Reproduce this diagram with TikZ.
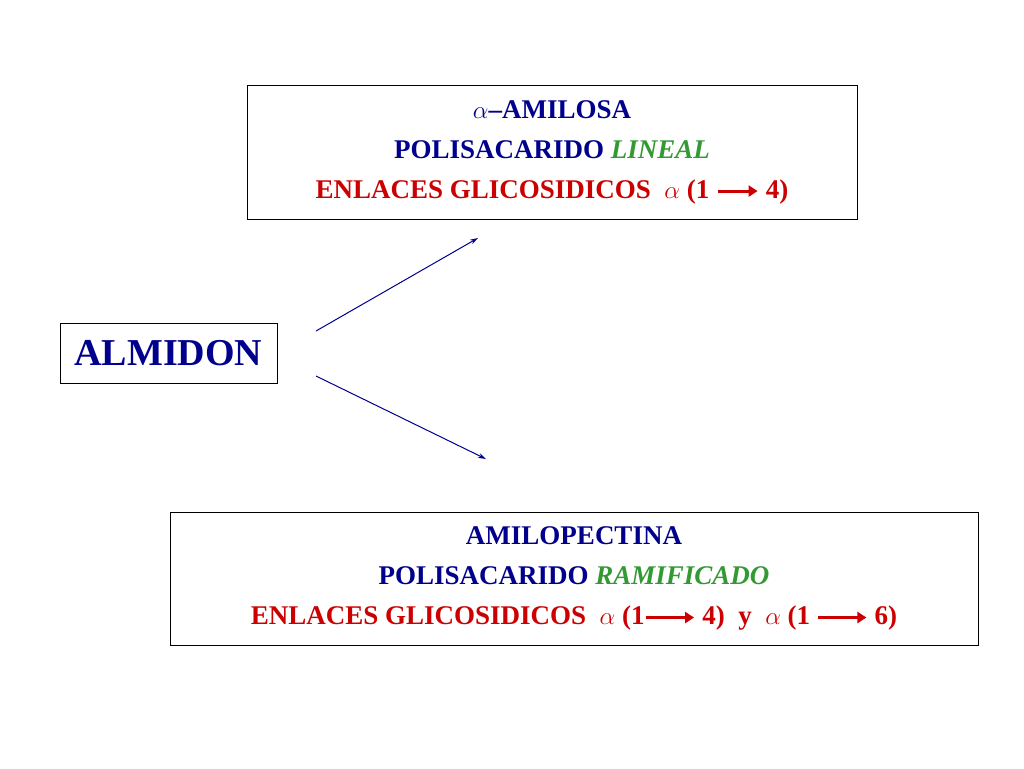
\documentclass[tikz,border=0pt]{standalone}
\usepackage{fontspec}
\setmainfont{Liberation Serif}
\usetikzlibrary{arrows.meta}
\definecolor{navy}{RGB}{0,0,140}
\definecolor{leaf}{RGB}{51,153,51}
\definecolor{brick}{RGB}{204,0,0}
\newcommand{\redarr}[1]{\tikz[baseline]\draw[-{Triangle[length=9pt,width=11pt]},line width=3pt,brick] (0pt,7pt)--(#1,7pt);}
\tikzset{
  textbox/.style={draw,line width=0.8pt,align=center,font=\fontsize{27}{40}\selectfont\bfseries,inner sep=0pt},
  link/.style={navy,line width=1pt,-{Stealth[length=8pt,width=5pt]}}
}
\begin{document}
\begin{tikzpicture}[x=1pt,y=-1pt]
\useasboundingbox (0,0) rectangle (1024,768);
% boxes
\node[textbox,minimum width=610,minimum height=134] (amilosa) at (552,152) {%
  \textcolor{navy}{$\alpha$--AMILOSA}\\
  \textcolor{navy}{POLISACARIDO}\ \textcolor{leaf}{\itshape LINEAL}\\
  \textcolor{brick}{ENLACES GLICOSIDICOS \ $\alpha$ (1 \redarr{40pt} 4)}};
\node[textbox,minimum width=808,minimum height=133] (amilopec) at (574,578.5) {%
  \textcolor{navy}{AMILOPECTINA}\\
  \textcolor{navy}{POLISACARIDO}\ \textcolor{leaf}{\itshape RAMIFICADO}\\
  \textcolor{brick}{ENLACES GLICOSIDICOS \ $\alpha$ (1\redarr{48pt} 4) \ y \ $\alpha$ (1 \redarr{48pt} 6)}};
\node[textbox,minimum width=217,minimum height=60,font=\fontsize{38}{40}\selectfont\bfseries,text=navy] (almidon) at (168.5,353) {ALMIDON};
% connectors
\coordinate (a1) at (316,331);
\coordinate (a2) at (316,376);
\coordinate (top) at (478,238);
\coordinate (bot) at (486,459);
\draw[link] (a1) -- (top);
\draw[link] (a2) -- (bot);
\end{tikzpicture}
\end{document}
